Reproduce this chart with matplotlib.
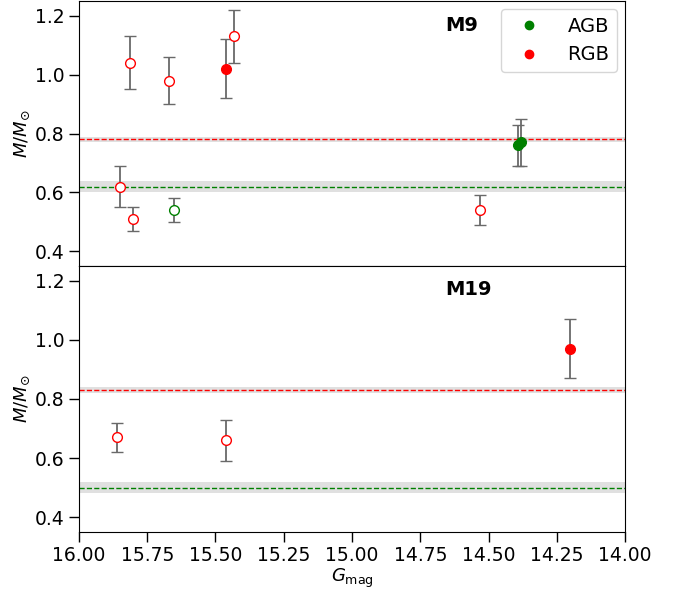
import numpy as np
import matplotlib
matplotlib.use("Agg")
import matplotlib.pyplot as plt

# M9 members
m9_g = [15.812, 15.671, 15.462, 15.432, 15.851, 15.801, 15.651, 14.530, 14.391, 14.380]
m9_mass = [1.04, 0.98, 1.02, 1.13, 0.62, 0.51, 0.54, 0.54, 0.76, 0.77]
m9_err_lo = [0.09, 0.08, 0.10, 0.09, 0.07, 0.04, 0.04, 0.05, 0.07, 0.08]
m9_err_hi = [0.09, 0.08, 0.10, 0.09, 0.07, 0.04, 0.04, 0.05, 0.07, 0.08]
m9_type = ["RGB", "RGB", "RGB", "RGB", "RGB", "RGB", "AGB", "RGB", "AGB", "AGB"]
m9_filled = [False, False, True, False, False, False, False, False, True, True]

# M19 members
m19_g = [15.861, 15.462, 14.200]
m19_mass = [0.67, 0.66, 0.97]
m19_err_lo = [0.05, 0.07, 0.10]
m19_err_hi = [0.05, 0.07, 0.10]
m19_type = ["RGB", "RGB", "RGB"]
m19_filled = [False, False, True]

# reference masses (value, half-width of band)
m9_ref = {"RGB": (0.78, 0.01), "AGB": (0.62, 0.02)}
m19_ref = {"RGB": (0.83, 0.01), "AGB": (0.50, 0.02)}

colors = {"AGB": "green", "RGB": "red"}

fig = plt.figure(figsize=(6.75, 5.91), dpi=100)
ax1 = fig.add_axes([0.117, 0.55, 0.809, 0.448])
ax2 = fig.add_axes([0.117, 0.1, 0.809, 0.45], sharex=ax1)


def draw_panel(ax, g, mass, lo, hi, kind, filled, ref, name):
    for t, (val, w) in ref.items():
        ax.axhspan(val - w, val + w, color="0.88", lw=0, zorder=0)
        ax.axhline(val, color=colors[t], ls="--", lw=1, zorder=1)
    for i in range(len(g)):
        c = colors[kind[i]]
        ax.errorbar(g[i], mass[i], yerr=[[lo[i]], [hi[i]]], fmt="o", ms=7,
                    mfc=c if filled[i] else "white", mec=c, mew=1,
                    ecolor="dimgray", elinewidth=1.3, capsize=4, capthick=1.3,
                    zorder=3)
    ax.text(0.67, 0.91, name, transform=ax.transAxes, fontsize=14,
            fontweight="bold", ha="left", va="center")
    ax.set_ylim(0.35, 1.25)
    ax.set_yticks([0.4, 0.6, 0.8, 1.0, 1.2])
    ax.set_ylabel(r"$M/M_{\odot}$", fontsize=13, labelpad=2)
    ax.tick_params(labelsize=13.5, length=7, width=1)


draw_panel(ax1, m9_g, m9_mass, m9_err_lo, m9_err_hi, m9_type, m9_filled, m9_ref, "M9")
draw_panel(ax2, m19_g, m19_mass, m19_err_lo, m19_err_hi, m19_type, m19_filled, m19_ref, "M19")

ax1.set_xlim(16.0, 14.0)
ax1.tick_params(labelbottom=False, bottom=False)
ax2.set_xticks([16.0, 15.75, 15.5, 15.25, 15.0, 14.75, 14.5, 14.25, 14.0])
ax2.xaxis.set_major_formatter(matplotlib.ticker.FormatStrFormatter("%.2f"))
ax2.set_xlabel(r"$G_{\rm mag}$", fontsize=13, labelpad=1)

for t in ["AGB", "RGB"]:
    ax1.plot([], [], "o", color=colors[t], ms=6, label=t)
ax1.legend(loc="upper right", fontsize=14, handletextpad=1.0, borderpad=0.4,
           labelspacing=0.5, borderaxespad=0.4)

fig.savefig("out.png", dpi=100)
